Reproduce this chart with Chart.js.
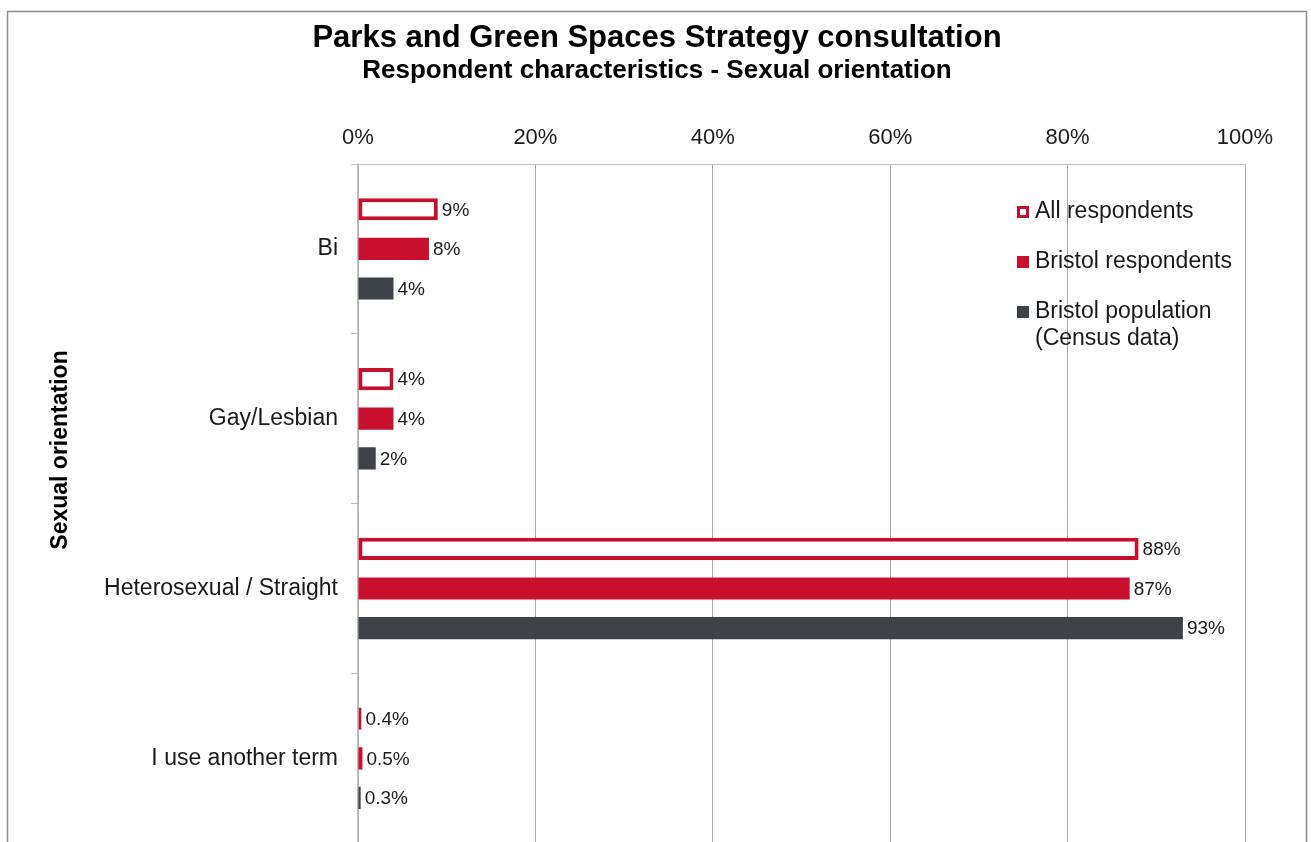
<!DOCTYPE html>
<html>
<head>
<meta charset="utf-8">
<title>Parks and Green Spaces Strategy consultation</title>
<script src="https://cdn.jsdelivr.net/npm/chart.js@4/dist/chart.umd.min.js"></script>
<style>
  html, body { margin: 0; padding: 0; background: #fff; overflow: hidden; }
  #wrap { width: 1311px; height: 870px; }
</style>
</head>
<body>
<div id="wrap"><canvas id="orientation-chart" width="1311" height="870"></canvas></div>
<script>
// 分类与数据
const categories = ['Bi', 'Gay/Lesbian', 'Heterosexual / Straight', 'I use another term'];
const allRespondents = [9, 4, 88, 0.4];
const bristolRespondents = [8, 4, 87, 0.5];
const bristolPopulation = [4, 2, 93, 0.3];
const seriesNames = ['All respondents', 'Bristol respondents', ['Bristol population', '(Census data)']];
const titleText = 'Parks and Green Spaces Strategy consultation';
const subtitleText = 'Respondent characteristics - Sexual orientation';
const axisTitle = 'Sexual orientation';

const RED = '#c8102e';
const GREY = '#3d4249';
const FONT = '"Liberation Sans", Arial, sans-serif';

// 外框、标题、图例、数值标签
const decorations = {
    id: 'decorations',
    beforeDraw(chart) {
        const c = chart.ctx;
        c.save();
        c.strokeStyle = '#8c8c8c';
        c.lineWidth = 1.5;
        c.strokeRect(7.5, 11.5, 1299, 900);
        c.restore();
    },
    afterDraw(chart) {
        const c = chart.ctx;
        c.save();
        c.fillStyle = '#000';
        c.textAlign = 'center';
        c.textBaseline = 'middle';
        c.font = 'bold 31px ' + FONT;
        c.fillText(titleText, 657, 38);
        c.font = 'bold 26px ' + FONT;
        c.fillText(subtitleText, 657, 71);

        // 纵轴标题
        c.save();
        c.translate(61, 450);
        c.rotate(-Math.PI / 2);
        c.font = 'bold 23px ' + FONT;
        c.fillText(axisTitle, 0, 0);
        c.restore();

        // 图例
        const lx = 1017, rows = [212, 262, 312];
        c.textAlign = 'left';
        c.font = '23px ' + FONT;
        chart.data.datasets.forEach((ds, i) => {
            const y = rows[i];
            c.fillStyle = ds.borderColor;
            c.fillRect(lx, y - 6, 12, 12);
            if (ds.backgroundColor === '#ffffff') {
                c.fillStyle = '#fff';
                c.fillRect(lx + 3, y - 3, 6, 6);
            }
            c.fillStyle = '#1a1a1a';
            const name = seriesNames[i];
            if (Array.isArray(name)) {
                name.forEach((line, k) => c.fillText(line, lx + 18, y + k * 27));
            } else {
                c.fillText(name, lx + 18, y);
            }
        });

        // 数值标签
        c.font = '19px ' + FONT;
        c.fillStyle = '#1a1a1a';
        chart.data.datasets.forEach((ds, i) => {
            chart.getDatasetMeta(i).data.forEach((bar, j) => {
                c.fillText(ds.data[j] + '%', bar.x + 4, bar.y + 1);
            });
        });
        c.restore();
    }
};

new Chart(document.getElementById('orientation-chart'), {
    type: 'bar',
    data: {
        labels: categories,
        datasets: [{
            label: 'All respondents',
            data: allRespondents,
            backgroundColor: '#ffffff',
            borderColor: RED,
            borderWidth: 4,
            borderSkipped: false
        }, {
            label: 'Bristol respondents',
            data: bristolRespondents,
            backgroundColor: RED,
            borderColor: RED,
            borderWidth: 0
        }, {
            label: 'Bristol population (Census data)',
            data: bristolPopulation,
            backgroundColor: GREY,
            borderColor: GREY,
            borderWidth: 0
        }]
    },
    options: {
        indexAxis: 'y',
        responsive: false,
        animation: false,
        categoryPercentage: 0.7,
        barPercentage: 0.56,
        layout: { padding: { top: 120, right: 66, bottom: 26, left: 0 } },
        plugins: {
            legend: { display: false },
            tooltip: { enabled: false }
        },
        scales: {
            x: {
                position: 'top',
                min: 0,
                max: 100,
                afterFit(scale) { scale.height = 44; },
                ticks: {
                    stepSize: 20,
                    padding: 13,
                    color: '#1a1a1a',
                    font: { family: FONT, size: 22 },
                    callback: v => v + '%'
                },
                grid: { color: '#a6a6a6', drawTicks: false },
                border: { display: true, color: '#bfbfbf' }
            },
            y: {
                afterFit(scale) { scale.width = 358; },
                ticks: {
                    padding: 13,
                    color: '#1a1a1a',
                    font: { family: FONT, size: 23 }
                },
                grid: { drawOnChartArea: false, tickLength: 7, color: '#bfbfbf' },
                border: { display: true, color: '#bfbfbf', width: 1.5 }
            }
        }
    },
    plugins: [decorations]
});
</script>
</body>
</html>
